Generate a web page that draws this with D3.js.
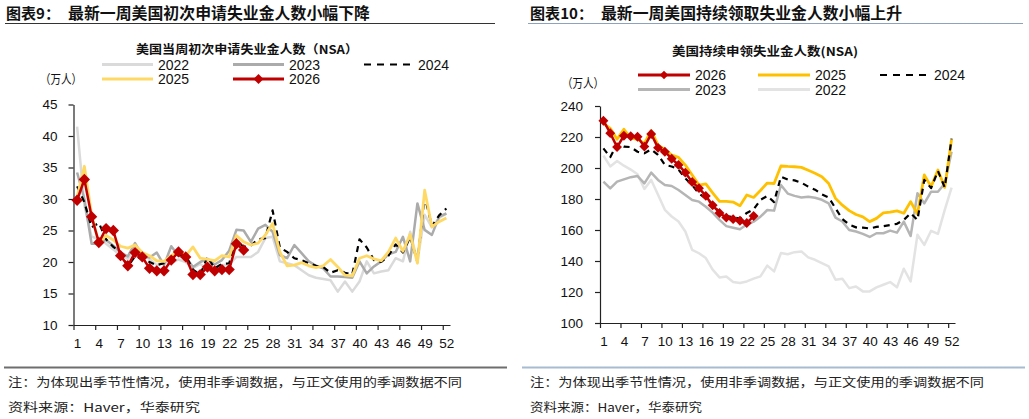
<!DOCTYPE html>
<html>
<head>
<meta charset="utf-8">
<script src="https://cdn.jsdelivr.net/npm/d3@7"></script>
<style>
  body { margin: 0; background: #fff; }
  svg { display: block; }
</style>
</head>
<body>
<svg id="chart"></svg>
<script>
// week labels on the category axis (weeks 1..52)
const WEEK_TICKS = [1, 4, 7, 10, 13, 16, 19, 22, 25, 28, 31, 34, 37, 40, 43, 46, 49, 52];

// ---- 图表9: initial claims, NSA, 万人
const IC_Y_TICKS = [10, 15, 20, 25, 30, 35, 40, 45];
const ic2022 = [41.5, 29.0, 24.0, 23.7, 22.9, 22.0, 21.0, 20.5, 22.0, 21.0, 20.5, 19.5, 20.0, 19.8, 20.4, 20.0, 19.0, 19.7, 18.8, 18.6, 19.5, 19.6, 20.8, 20.8, 20.8, 21.6, 23.8, 24.0, 20.1, 19.8, 19.5, 18.7, 17.9, 17.5, 17.3, 17.1, 15.3, 16.9, 15.3, 16.9, 20.1, 18.2, 18.5, 18.7, 20.6, 20.1, 24.8, 20.1, 27.5, 25.5, 27.0, 27.7];
const ic2023 = [34.2, 30.0, 22.9, 22.9, 23.5, 22.6, 21.5, 20.9, 23.0, 21.0, 20.7, 21.5, 19.5, 22.5, 21.0, 20.8, 19.2, 20.0, 20.5, 19.6, 20.3, 21.8, 25.1, 25.0, 23.2, 25.3, 25.9, 24.8, 21.1, 20.6, 22.7, 21.4, 20.1, 19.4, 19.0, 17.7, 17.7, 17.6, 17.5, 20.1, 18.2, 19.3, 20.1, 21.2, 21.6, 24.0, 20.1, 29.3, 25.1, 24.3, 27.2, 27.7];
const ic2024 = [32.0, 29.5, 25.5, 26.2, 23.6, 22.4, 21.5, 19.3, 20.9, 20.5, 20.0, 19.5, 19.8, 20.5, 21.1, 21.0, 18.8, 18.0, 20.8, 19.0, 19.7, 19.8, 23.4, 22.4, 22.6, 23.6, 23.8, 28.2, 22.3, 21.6, 20.6, 20.3, 19.8, 19.4, 19.2, 18.3, 18.7, 18.3, 18.0, 23.6, 22.3, 20.3, 20.0, 21.0, 22.8, 21.5, 24.0, 20.0, 30.5, 25.7, 27.4, 28.5];
const ic2025 = [30.3, 35.2, 27.5, 23.0, 24.2, 23.5, 22.5, 22.2, 22.7, 21.5, 21.0, 20.2, 20.1, 21.0, 21.7, 21.0, 22.4, 20.6, 20.4, 20.2, 21.0, 20.8, 24.2, 23.2, 22.7, 23.0, 24.3, 26.1, 21.6, 19.4, 19.5, 19.9, 19.4, 19.1, 19.4, 20.4, 19.2, 17.9, 17.8, 20.6, 21.0, 20.5, 20.2, 21.6, 23.8, 21.7, 24.4, 19.8, 31.4, 25.6, 26.4, 27.0];
const ic2026 = [29.8, 33.1, 27.2, 23.1, 25.3, 25.0, 21.0, 19.4, 21.5, 20.8, 19.0, 18.6, 18.6, 20.3, 21.6, 20.8, 18.0, 18.0, 19.2, 18.6, 18.8, 18.8, 22.9, 21.9];

// ---- 图表10: continuing claims, NSA, 万人
const CC_Y_TICKS = [100, 120, 140, 160, 180, 200, 220, 240];
const cc2022 = [208, 201, 204.5, 201.5, 199, 196, 186.5, 192.3, 182.7, 173, 168.7, 165.5, 159, 147.2, 145, 141.9, 134.4, 129.4, 130, 126.4, 125.8, 126.8, 128.6, 130.1, 137, 133.3, 145.1, 144.4, 145.7, 146.2, 142.3, 140.8, 138.6, 136.5, 127.9, 128.6, 122.5, 123.6, 120.4, 120.4, 123, 124.7, 126.4, 123, 135, 126.8, 156.9, 150.4, 159.5, 157.5, 173, 187.3];
const cc2023 = [191.2, 186.9, 191.2, 192.7, 194.1, 194.8, 190.1, 197, 192.3, 189, 188.4, 185.8, 182.6, 179.4, 178.3, 175, 171.2, 166.5, 162.5, 161.5, 160.5, 163.5, 165.4, 168.6, 172.9, 172.5, 189, 183.5, 182, 181, 181.5, 180.8, 179.5, 177.2, 168, 165.5, 160, 159, 157.5, 155.5, 157.9, 157.9, 159.6, 158.3, 165.4, 156.1, 183.7, 177.2, 184.7, 184.7, 190, 210.5];
const cc2024 = [212.7, 207, 215.5, 213.8, 213.5, 210.5, 209.5, 212, 208.5, 202, 201, 199, 193.3, 189, 183.5, 180.5, 176.5, 171.5, 169, 168.2, 167.3, 171, 173.3, 179.4, 182, 178, 194.4, 192.5, 192, 190.5, 188, 186, 183, 181, 174, 167, 163.5, 161.7, 161.5, 161, 162, 162.5, 163.2, 164, 166.5, 170.8, 166.5, 192.3, 187, 198, 187.5, 219];
const cc2025 = [228.8, 225.6, 218.5, 225, 219.2, 218.5, 215.9, 224.1, 214.8, 212, 208.4, 206.9, 201.9, 195.5, 189, 189.7, 184, 178.5, 178.5, 178, 175.7, 182.6, 181, 185.5, 190.3, 190, 201.3, 201, 200.8, 200.4, 198.5, 196.6, 194.4, 190, 180.4, 176, 172.5, 170, 168.5, 165.4, 167.5, 171, 171.5, 172.3, 170.8, 178.3, 170.3, 195.5, 188, 198.7, 187.5, 218.5];
const cc2026 = [230.5, 222.5, 213.5, 220.8, 220.5, 220.2, 213.8, 221.9, 213, 210.5, 206, 202, 197, 191, 187, 182, 176, 171, 168, 167, 166, 164.5, 169];

const CN = '"Noto Sans CJK SC", "Noto Sans CJK TC", sans-serif';
const LAT = '"Liberation Sans", Arial, sans-serif';

const SVG = d3.select('#chart').attr('width', 1029).attr('height', 419)
  .style('background-color', '#fff');

// diamond marker, side = s
function diamond(g, cx, cy, s, color) {
  g.append('path')
    .attr('d', d3.symbol(d3.symbolSquare, s * s)())
    .attr('transform', `translate(${cx},${cy}) rotate(45)`)
    .attr('fill', color);
}

function drawPlot(opt) {
  const g = SVG.append('g');
  const x = d3.scaleLinear().domain([0.5, 52.5]).range([opt.x0, opt.x1]);
  const y = d3.scaleLinear().domain(opt.yDomain).range([opt.y0, opt.y1]);

  // y axis
  const yAxisG = g.append('g').attr('transform', `translate(${opt.x0},0)`);
  d3.axisLeft(y).tickValues(opt.yTicks).tickSize(5).tickSizeOuter(0).tickPadding(opt.yPad)(yAxisG);

  // x axis: tick marks sit between categories, labels on the category
  const xTickG = g.append('g').attr('transform', `translate(0,${opt.y0})`);
  d3.axisBottom(x).tickValues(WEEK_TICKS.map(d => d - 0.5)).tickSize(5).tickSizeOuter(0).tickFormat('')(xTickG);
  const xLabG = g.append('g').attr('transform', `translate(0,${opt.y0})`);
  d3.axisBottom(x).tickValues(WEEK_TICKS).tickSize(0).tickPadding(13)(xLabG);
  xLabG.select('.domain').remove();

  g.selectAll('.domain, .tick line').attr('stroke', '#222').attr('stroke-width', 1.2);
  g.selectAll('.tick text').attr('font-family', LAT).attr('font-size', 13.5).attr('fill', '#111');

  const line = d3.line().x((d, i) => x(i + 1)).y(d => y(d));

  opt.series.forEach(s => {
    g.append('path')
      .datum(s.data)
      .attr('d', line)
      .attr('fill', 'none')
      .attr('stroke', s.color)
      .attr('stroke-width', s.width)
      .attr('stroke-linejoin', 'round')
      .attr('stroke-dasharray', s.dash || null);
    if (s.marker) {
      s.data.forEach((d, i) => diamond(g, x(i + 1), y(d), s.marker, s.color));
    }
  });
}

function legendItem(x, y, s, label) {
  const g = SVG.append('g');
  g.append('line')
    .attr('x1', x).attr('x2', x + s.len)
    .attr('y1', y).attr('y2', y)
    .attr('stroke', s.color)
    .attr('stroke-width', s.dash ? 2.2 : 3)
    .attr('stroke-dasharray', s.dash ? '7,6' : null);
  if (s.marker) diamond(g, x + s.len / 2, y, s.marker - 1, s.color);
  g.append('text')
    .attr('x', x + s.len + 5).attr('y', y + 5)
    .attr('font-family', LAT).attr('font-size', 14).attr('fill', '#111')
    .text(label);
}

function text(x, y, str, opts) {
  const t = SVG.append('text')
    .attr('x', x).attr('y', y)
    .attr('font-family', opts.family || CN)
    .attr('font-size', opts.size)
    .attr('font-weight', opts.weight || 'normal')
    .attr('fill', opts.color || '#111')
    .text(str);
  if (opts.len) t.attr('textLength', opts.len).attr('lengthAdjust', 'spacingAndGlyphs');
  return t;
}

// ---------------- left panel ----------------
text(6, 19, '图表9：', { size: 15, weight: 'bold', len: 54 });
text(68, 19, '最新一周美国初次申请失业金人数小幅下降', { size: 15.5, weight: 'bold', len: 302 });
SVG.append('line').attr('x1', 5).attr('x2', 495).attr('y1', 23.5).attr('y2', 23.5)
  .attr('stroke', '#333').attr('stroke-width', 1);

text(136, 54, '美国当周初次申请失业金人数（NSA）', { size: 12, weight: 'bold', len: 222 });
text(40, 84, '（万人）', { size: 12.5, len: 42 });

const icS = {
  y2022: { data: ic2022, color: '#dadada', width: 2.5, len: 51 },
  y2023: { data: ic2023, color: '#ababab', width: 2.5, len: 51 },
  y2024: { data: ic2024, color: '#000', width: 2.2, dash: '6,5', len: 49 },
  y2025: { data: ic2025, color: '#ffd966', width: 2.8, len: 51 },
  y2026: { data: ic2026, color: '#c00000', width: 2.5, marker: 8, len: 51 }
};

drawPlot({
  x0: 73.5, x1: 450, y0: 325, y1: 104.5,
  yDomain: [10, 45], yTicks: IC_Y_TICKS, yPad: 11,
  series: [icS.y2022, icS.y2023, icS.y2024, icS.y2025, icS.y2026]
});

legendItem(102, 64.5, icS.y2022, '2022');
legendItem(233, 64.5, icS.y2023, '2023');
legendItem(364, 64.5, icS.y2024, '2024');
legendItem(102, 79, icS.y2025, '2025');
legendItem(233, 79, icS.y2026, '2026');

// ---------------- right panel ----------------
text(530, 19, '图表10：', { size: 15, weight: 'bold', len: 63 });
text(601, 19, '最新一周美国持续领取失业金人数小幅上升', { size: 15.5, weight: 'bold', len: 301 });
SVG.append('line').attr('x1', 528).attr('x2', 1023).attr('y1', 23.5).attr('y2', 23.5)
  .attr('stroke', '#8da2bd').attr('stroke-width', 1);

text(672, 56, '美国持续申领失业金人数(NSA)', { size: 12, weight: 'bold', len: 186 });
text(562, 88, '（万人）', { size: 12.5, len: 42 });

const ccS = {
  y2022: { data: cc2022, color: '#e3e3e3', width: 2.5, len: 52 },
  y2023: { data: cc2023, color: '#b5b5b5', width: 2.5, len: 52 },
  y2024: { data: cc2024, color: '#000', width: 2.2, dash: '6,5', len: 49 },
  y2025: { data: cc2025, color: '#ffc000', width: 2.8, len: 52 },
  y2026: { data: cc2026, color: '#c00000', width: 2.5, marker: 7, len: 52 }
};

drawPlot({
  x0: 600, x1: 955, y0: 323, y1: 106,
  yDomain: [100, 240], yTicks: CC_Y_TICKS, yPad: 12,
  series: [ccS.y2022, ccS.y2023, ccS.y2025, ccS.y2024, ccS.y2026]
});

legendItem(638, 75, ccS.y2026, '2026');
legendItem(758, 75, ccS.y2025, '2025');
legendItem(880, 75, ccS.y2024, '2024');
legendItem(638, 89.5, ccS.y2023, '2023');
legendItem(758, 89.5, ccS.y2022, '2022');

// ---------------- footers ----------------
SVG.append('line').attr('x1', 4).attr('x2', 507).attr('y1', 367.5).attr('y2', 367.5)
  .attr('stroke', '#6e6e6e').attr('stroke-width', 2);
SVG.append('line').attr('x1', 522).attr('x2', 1025).attr('y1', 367.5).attr('y2', 367.5)
  .attr('stroke', '#a8bbd0').attr('stroke-width', 2);

const NOTE = '注：为体现出季节性情况，使用非季调数据，与正文使用的季调数据不同';
const SRC = '资料来源：Haver，华泰研究';
text(8, 387, NOTE, { size: 12, len: 454, color: '#222' });
text(8, 412, SRC, { size: 12, len: 192, color: '#222' });
text(530, 387, NOTE, { size: 12, len: 454, color: '#222' });
text(530, 412, SRC, { size: 12, len: 172, color: '#222' });
</script>
</body>
</html>
